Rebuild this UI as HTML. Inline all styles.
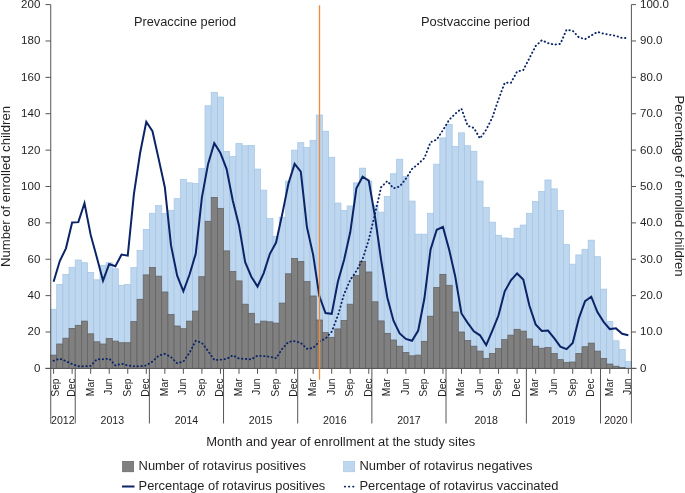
<!DOCTYPE html><html><head><meta charset="utf-8"><style>html,body{margin:0;padding:0;background:#fff;width:685px;height:493px;overflow:hidden}svg{display:block;will-change:transform}text{font-family:"Liberation Sans",sans-serif;fill:#231f20}</style></head><body>
<svg width="685" height="493" viewBox="0 0 685 493">
<rect width="685" height="493" fill="#fff"/>
<g stroke-width="0.7">
<rect x="50.50" y="309.28" width="6.18" height="45.84" fill="#bed6ee" stroke="#a2c5e7"/>
<rect x="56.68" y="284.36" width="6.18" height="59.66" fill="#bed6ee" stroke="#a2c5e7"/>
<rect x="62.86" y="274.36" width="6.18" height="63.85" fill="#bed6ee" stroke="#a2c5e7"/>
<rect x="69.04" y="267.26" width="6.18" height="61.12" fill="#bed6ee" stroke="#a2c5e7"/>
<rect x="75.22" y="259.99" width="6.18" height="65.30" fill="#bed6ee" stroke="#a2c5e7"/>
<rect x="81.40" y="262.72" width="6.18" height="58.39" fill="#bed6ee" stroke="#a2c5e7"/>
<rect x="87.58" y="272.36" width="6.18" height="61.48" fill="#bed6ee" stroke="#a2c5e7"/>
<rect x="93.76" y="279.81" width="6.18" height="62.03" fill="#bed6ee" stroke="#a2c5e7"/>
<rect x="99.94" y="265.26" width="6.18" height="78.76" fill="#bed6ee" stroke="#a2c5e7"/>
<rect x="106.12" y="262.72" width="6.18" height="75.67" fill="#bed6ee" stroke="#a2c5e7"/>
<rect x="112.30" y="268.72" width="6.18" height="72.40" fill="#bed6ee" stroke="#a2c5e7"/>
<rect x="118.48" y="285.27" width="6.18" height="57.48" fill="#bed6ee" stroke="#a2c5e7"/>
<rect x="124.66" y="284.36" width="6.18" height="58.39" fill="#bed6ee" stroke="#a2c5e7"/>
<rect x="130.84" y="267.45" width="6.18" height="54.21" fill="#bed6ee" stroke="#a2c5e7"/>
<rect x="137.02" y="250.53" width="6.18" height="48.75" fill="#bed6ee" stroke="#a2c5e7"/>
<rect x="143.20" y="229.43" width="6.18" height="45.47" fill="#bed6ee" stroke="#a2c5e7"/>
<rect x="149.38" y="213.24" width="6.18" height="54.21" fill="#bed6ee" stroke="#a2c5e7"/>
<rect x="155.56" y="205.60" width="6.18" height="70.58" fill="#bed6ee" stroke="#a2c5e7"/>
<rect x="161.74" y="213.60" width="6.18" height="78.40" fill="#bed6ee" stroke="#a2c5e7"/>
<rect x="167.92" y="210.33" width="6.18" height="104.23" fill="#bed6ee" stroke="#a2c5e7"/>
<rect x="174.10" y="198.69" width="6.18" height="127.33" fill="#bed6ee" stroke="#a2c5e7"/>
<rect x="180.28" y="179.41" width="6.18" height="149.34" fill="#bed6ee" stroke="#a2c5e7"/>
<rect x="186.46" y="182.86" width="6.18" height="138.24" fill="#bed6ee" stroke="#a2c5e7"/>
<rect x="192.64" y="183.59" width="6.18" height="127.51" fill="#bed6ee" stroke="#a2c5e7"/>
<rect x="198.82" y="168.31" width="6.18" height="108.41" fill="#bed6ee" stroke="#a2c5e7"/>
<rect x="205.00" y="105.74" width="6.18" height="115.51" fill="#bed6ee" stroke="#a2c5e7"/>
<rect x="211.18" y="92.28" width="6.18" height="105.14" fill="#bed6ee" stroke="#a2c5e7"/>
<rect x="217.36" y="97.01" width="6.18" height="111.32" fill="#bed6ee" stroke="#a2c5e7"/>
<rect x="223.54" y="151.39" width="6.18" height="99.50" fill="#bed6ee" stroke="#a2c5e7"/>
<rect x="229.72" y="156.49" width="6.18" height="114.96" fill="#bed6ee" stroke="#a2c5e7"/>
<rect x="235.90" y="143.39" width="6.18" height="137.52" fill="#bed6ee" stroke="#a2c5e7"/>
<rect x="242.08" y="145.75" width="6.18" height="158.43" fill="#bed6ee" stroke="#a2c5e7"/>
<rect x="248.26" y="145.39" width="6.18" height="167.89" fill="#bed6ee" stroke="#a2c5e7"/>
<rect x="254.44" y="169.04" width="6.18" height="154.80" fill="#bed6ee" stroke="#a2c5e7"/>
<rect x="260.62" y="190.14" width="6.18" height="130.97" fill="#bed6ee" stroke="#a2c5e7"/>
<rect x="266.80" y="218.33" width="6.18" height="103.50" fill="#bed6ee" stroke="#a2c5e7"/>
<rect x="272.98" y="236.34" width="6.18" height="86.77" fill="#bed6ee" stroke="#a2c5e7"/>
<rect x="279.16" y="217.24" width="6.18" height="85.86" fill="#bed6ee" stroke="#a2c5e7"/>
<rect x="285.34" y="181.04" width="6.18" height="92.77" fill="#bed6ee" stroke="#a2c5e7"/>
<rect x="291.52" y="150.12" width="6.18" height="108.41" fill="#bed6ee" stroke="#a2c5e7"/>
<rect x="297.70" y="142.66" width="6.18" height="118.78" fill="#bed6ee" stroke="#a2c5e7"/>
<rect x="303.88" y="147.57" width="6.18" height="134.06" fill="#bed6ee" stroke="#a2c5e7"/>
<rect x="310.06" y="140.30" width="6.18" height="155.71" fill="#bed6ee" stroke="#a2c5e7"/>
<rect x="316.24" y="115.01" width="6.18" height="205.00" fill="#bed6ee" stroke="#a2c5e7"/>
<rect x="322.42" y="131.20" width="6.18" height="201.36" fill="#bed6ee" stroke="#a2c5e7"/>
<rect x="328.60" y="157.21" width="6.18" height="180.08" fill="#bed6ee" stroke="#a2c5e7"/>
<rect x="334.78" y="203.05" width="6.18" height="125.87" fill="#bed6ee" stroke="#a2c5e7"/>
<rect x="340.96" y="210.33" width="6.18" height="110.23" fill="#bed6ee" stroke="#a2c5e7"/>
<rect x="347.14" y="205.96" width="6.18" height="98.23" fill="#bed6ee" stroke="#a2c5e7"/>
<rect x="353.32" y="182.86" width="6.18" height="92.77" fill="#bed6ee" stroke="#a2c5e7"/>
<rect x="359.50" y="168.13" width="6.18" height="93.50" fill="#bed6ee" stroke="#a2c5e7"/>
<rect x="365.68" y="181.04" width="6.18" height="90.95" fill="#bed6ee" stroke="#a2c5e7"/>
<rect x="371.86" y="205.60" width="6.18" height="96.23" fill="#bed6ee" stroke="#a2c5e7"/>
<rect x="378.04" y="212.15" width="6.18" height="108.78" fill="#bed6ee" stroke="#a2c5e7"/>
<rect x="384.22" y="196.50" width="6.18" height="136.79" fill="#bed6ee" stroke="#a2c5e7"/>
<rect x="390.40" y="173.77" width="6.18" height="166.26" fill="#bed6ee" stroke="#a2c5e7"/>
<rect x="396.58" y="159.22" width="6.18" height="186.99" fill="#bed6ee" stroke="#a2c5e7"/>
<rect x="402.76" y="176.31" width="6.18" height="176.08" fill="#bed6ee" stroke="#a2c5e7"/>
<rect x="408.94" y="201.05" width="6.18" height="154.80" fill="#bed6ee" stroke="#a2c5e7"/>
<rect x="415.12" y="234.16" width="6.18" height="120.96" fill="#bed6ee" stroke="#a2c5e7"/>
<rect x="421.30" y="234.16" width="6.18" height="107.14" fill="#bed6ee" stroke="#a2c5e7"/>
<rect x="427.48" y="213.24" width="6.18" height="102.96" fill="#bed6ee" stroke="#a2c5e7"/>
<rect x="433.66" y="164.13" width="6.18" height="123.51" fill="#bed6ee" stroke="#a2c5e7"/>
<rect x="439.84" y="137.93" width="6.18" height="136.42" fill="#bed6ee" stroke="#a2c5e7"/>
<rect x="446.02" y="124.47" width="6.18" height="160.80" fill="#bed6ee" stroke="#a2c5e7"/>
<rect x="452.20" y="146.30" width="6.18" height="165.71" fill="#bed6ee" stroke="#a2c5e7"/>
<rect x="458.38" y="132.84" width="6.18" height="199.18" fill="#bed6ee" stroke="#a2c5e7"/>
<rect x="464.56" y="145.75" width="6.18" height="194.81" fill="#bed6ee" stroke="#a2c5e7"/>
<rect x="470.74" y="151.21" width="6.18" height="195.00" fill="#bed6ee" stroke="#a2c5e7"/>
<rect x="476.92" y="181.04" width="6.18" height="170.08" fill="#bed6ee" stroke="#a2c5e7"/>
<rect x="483.10" y="207.42" width="6.18" height="150.98" fill="#bed6ee" stroke="#a2c5e7"/>
<rect x="489.28" y="222.15" width="6.18" height="131.33" fill="#bed6ee" stroke="#a2c5e7"/>
<rect x="495.46" y="235.25" width="6.18" height="113.32" fill="#bed6ee" stroke="#a2c5e7"/>
<rect x="501.64" y="237.98" width="6.18" height="101.68" fill="#bed6ee" stroke="#a2c5e7"/>
<rect x="507.82" y="238.34" width="6.18" height="96.77" fill="#bed6ee" stroke="#a2c5e7"/>
<rect x="514.00" y="228.16" width="6.18" height="101.14" fill="#bed6ee" stroke="#a2c5e7"/>
<rect x="520.18" y="225.06" width="6.18" height="106.05" fill="#bed6ee" stroke="#a2c5e7"/>
<rect x="526.36" y="213.24" width="6.18" height="125.69" fill="#bed6ee" stroke="#a2c5e7"/>
<rect x="532.54" y="201.42" width="6.18" height="144.79" fill="#bed6ee" stroke="#a2c5e7"/>
<rect x="538.72" y="191.41" width="6.18" height="156.80" fill="#bed6ee" stroke="#a2c5e7"/>
<rect x="544.90" y="179.95" width="6.18" height="167.53" fill="#bed6ee" stroke="#a2c5e7"/>
<rect x="551.08" y="188.86" width="6.18" height="164.62" fill="#bed6ee" stroke="#a2c5e7"/>
<rect x="557.26" y="210.33" width="6.18" height="149.34" fill="#bed6ee" stroke="#a2c5e7"/>
<rect x="563.44" y="244.53" width="6.18" height="118.05" fill="#bed6ee" stroke="#a2c5e7"/>
<rect x="569.62" y="264.17" width="6.18" height="97.86" fill="#bed6ee" stroke="#a2c5e7"/>
<rect x="575.80" y="254.89" width="6.18" height="98.59" fill="#bed6ee" stroke="#a2c5e7"/>
<rect x="581.98" y="249.26" width="6.18" height="97.50" fill="#bed6ee" stroke="#a2c5e7"/>
<rect x="588.16" y="240.16" width="6.18" height="102.96" fill="#bed6ee" stroke="#a2c5e7"/>
<rect x="594.34" y="256.71" width="6.18" height="94.41" fill="#bed6ee" stroke="#a2c5e7"/>
<rect x="600.52" y="289.09" width="6.18" height="69.30" fill="#bed6ee" stroke="#a2c5e7"/>
<rect x="606.70" y="321.47" width="6.18" height="42.56" fill="#bed6ee" stroke="#a2c5e7"/>
<rect x="612.88" y="340.75" width="6.18" height="25.47" fill="#bed6ee" stroke="#a2c5e7"/>
<rect x="619.06" y="349.48" width="6.18" height="18.01" fill="#bed6ee" stroke="#a2c5e7"/>
<rect x="625.24" y="361.49" width="6.18" height="6.91" fill="#bed6ee" stroke="#a2c5e7"/>
<rect x="50.50" y="355.12" width="6.18" height="13.28" fill="#808080" stroke="#5f5f5f"/>
<rect x="56.68" y="344.03" width="6.18" height="24.37" fill="#808080" stroke="#5f5f5f"/>
<rect x="62.86" y="338.20" width="6.18" height="30.20" fill="#808080" stroke="#5f5f5f"/>
<rect x="69.04" y="328.38" width="6.18" height="40.02" fill="#808080" stroke="#5f5f5f"/>
<rect x="75.22" y="325.29" width="6.18" height="43.11" fill="#808080" stroke="#5f5f5f"/>
<rect x="81.40" y="321.11" width="6.18" height="47.29" fill="#808080" stroke="#5f5f5f"/>
<rect x="87.58" y="333.84" width="6.18" height="34.56" fill="#808080" stroke="#5f5f5f"/>
<rect x="93.76" y="341.84" width="6.18" height="26.56" fill="#808080" stroke="#5f5f5f"/>
<rect x="99.94" y="344.03" width="6.18" height="24.37" fill="#808080" stroke="#5f5f5f"/>
<rect x="106.12" y="338.39" width="6.18" height="30.01" fill="#808080" stroke="#5f5f5f"/>
<rect x="112.30" y="341.12" width="6.18" height="27.28" fill="#808080" stroke="#5f5f5f"/>
<rect x="118.48" y="342.75" width="6.18" height="25.65" fill="#808080" stroke="#5f5f5f"/>
<rect x="124.66" y="342.75" width="6.18" height="25.65" fill="#808080" stroke="#5f5f5f"/>
<rect x="130.84" y="321.65" width="6.18" height="46.75" fill="#808080" stroke="#5f5f5f"/>
<rect x="137.02" y="299.28" width="6.18" height="69.12" fill="#808080" stroke="#5f5f5f"/>
<rect x="143.20" y="274.90" width="6.18" height="93.50" fill="#808080" stroke="#5f5f5f"/>
<rect x="149.38" y="267.45" width="6.18" height="100.95" fill="#808080" stroke="#5f5f5f"/>
<rect x="155.56" y="276.18" width="6.18" height="92.22" fill="#808080" stroke="#5f5f5f"/>
<rect x="161.74" y="292.00" width="6.18" height="76.40" fill="#808080" stroke="#5f5f5f"/>
<rect x="167.92" y="314.56" width="6.18" height="53.84" fill="#808080" stroke="#5f5f5f"/>
<rect x="174.10" y="326.02" width="6.18" height="42.38" fill="#808080" stroke="#5f5f5f"/>
<rect x="180.28" y="328.75" width="6.18" height="39.65" fill="#808080" stroke="#5f5f5f"/>
<rect x="186.46" y="321.11" width="6.18" height="47.29" fill="#808080" stroke="#5f5f5f"/>
<rect x="192.64" y="311.10" width="6.18" height="57.30" fill="#808080" stroke="#5f5f5f"/>
<rect x="198.82" y="276.72" width="6.18" height="91.68" fill="#808080" stroke="#5f5f5f"/>
<rect x="205.00" y="221.24" width="6.18" height="147.16" fill="#808080" stroke="#5f5f5f"/>
<rect x="211.18" y="197.41" width="6.18" height="170.99" fill="#808080" stroke="#5f5f5f"/>
<rect x="217.36" y="208.33" width="6.18" height="160.07" fill="#808080" stroke="#5f5f5f"/>
<rect x="223.54" y="250.89" width="6.18" height="117.51" fill="#808080" stroke="#5f5f5f"/>
<rect x="229.72" y="271.45" width="6.18" height="96.95" fill="#808080" stroke="#5f5f5f"/>
<rect x="235.90" y="280.91" width="6.18" height="87.49" fill="#808080" stroke="#5f5f5f"/>
<rect x="242.08" y="304.19" width="6.18" height="64.21" fill="#808080" stroke="#5f5f5f"/>
<rect x="248.26" y="313.28" width="6.18" height="55.12" fill="#808080" stroke="#5f5f5f"/>
<rect x="254.44" y="323.83" width="6.18" height="44.57" fill="#808080" stroke="#5f5f5f"/>
<rect x="260.62" y="321.11" width="6.18" height="47.29" fill="#808080" stroke="#5f5f5f"/>
<rect x="266.80" y="321.83" width="6.18" height="46.57" fill="#808080" stroke="#5f5f5f"/>
<rect x="272.98" y="323.11" width="6.18" height="45.29" fill="#808080" stroke="#5f5f5f"/>
<rect x="279.16" y="303.10" width="6.18" height="65.30" fill="#808080" stroke="#5f5f5f"/>
<rect x="285.34" y="273.81" width="6.18" height="94.59" fill="#808080" stroke="#5f5f5f"/>
<rect x="291.52" y="258.53" width="6.18" height="109.87" fill="#808080" stroke="#5f5f5f"/>
<rect x="297.70" y="261.44" width="6.18" height="106.96" fill="#808080" stroke="#5f5f5f"/>
<rect x="303.88" y="281.63" width="6.18" height="86.77" fill="#808080" stroke="#5f5f5f"/>
<rect x="310.06" y="296.00" width="6.18" height="72.40" fill="#808080" stroke="#5f5f5f"/>
<rect x="316.24" y="320.01" width="6.18" height="48.39" fill="#808080" stroke="#5f5f5f"/>
<rect x="322.42" y="332.57" width="6.18" height="35.83" fill="#808080" stroke="#5f5f5f"/>
<rect x="328.60" y="337.30" width="6.18" height="31.10" fill="#808080" stroke="#5f5f5f"/>
<rect x="334.78" y="328.93" width="6.18" height="39.47" fill="#808080" stroke="#5f5f5f"/>
<rect x="340.96" y="320.56" width="6.18" height="47.84" fill="#808080" stroke="#5f5f5f"/>
<rect x="347.14" y="304.19" width="6.18" height="64.21" fill="#808080" stroke="#5f5f5f"/>
<rect x="353.32" y="275.63" width="6.18" height="92.77" fill="#808080" stroke="#5f5f5f"/>
<rect x="359.50" y="261.62" width="6.18" height="106.78" fill="#808080" stroke="#5f5f5f"/>
<rect x="365.68" y="271.99" width="6.18" height="96.41" fill="#808080" stroke="#5f5f5f"/>
<rect x="371.86" y="301.82" width="6.18" height="66.58" fill="#808080" stroke="#5f5f5f"/>
<rect x="378.04" y="320.92" width="6.18" height="47.48" fill="#808080" stroke="#5f5f5f"/>
<rect x="384.22" y="333.29" width="6.18" height="35.11" fill="#808080" stroke="#5f5f5f"/>
<rect x="390.40" y="340.02" width="6.18" height="28.38" fill="#808080" stroke="#5f5f5f"/>
<rect x="396.58" y="346.21" width="6.18" height="22.19" fill="#808080" stroke="#5f5f5f"/>
<rect x="402.76" y="352.39" width="6.18" height="16.01" fill="#808080" stroke="#5f5f5f"/>
<rect x="408.94" y="355.85" width="6.18" height="12.55" fill="#808080" stroke="#5f5f5f"/>
<rect x="415.12" y="355.12" width="6.18" height="13.28" fill="#808080" stroke="#5f5f5f"/>
<rect x="421.30" y="341.30" width="6.18" height="27.10" fill="#808080" stroke="#5f5f5f"/>
<rect x="427.48" y="316.19" width="6.18" height="52.21" fill="#808080" stroke="#5f5f5f"/>
<rect x="433.66" y="287.64" width="6.18" height="80.76" fill="#808080" stroke="#5f5f5f"/>
<rect x="439.84" y="274.36" width="6.18" height="94.04" fill="#808080" stroke="#5f5f5f"/>
<rect x="446.02" y="285.27" width="6.18" height="83.13" fill="#808080" stroke="#5f5f5f"/>
<rect x="452.20" y="312.01" width="6.18" height="56.39" fill="#808080" stroke="#5f5f5f"/>
<rect x="458.38" y="332.02" width="6.18" height="36.38" fill="#808080" stroke="#5f5f5f"/>
<rect x="464.56" y="340.57" width="6.18" height="27.83" fill="#808080" stroke="#5f5f5f"/>
<rect x="470.74" y="346.21" width="6.18" height="22.19" fill="#808080" stroke="#5f5f5f"/>
<rect x="476.92" y="351.12" width="6.18" height="17.28" fill="#808080" stroke="#5f5f5f"/>
<rect x="483.10" y="358.40" width="6.18" height="10.00" fill="#808080" stroke="#5f5f5f"/>
<rect x="489.28" y="353.48" width="6.18" height="14.92" fill="#808080" stroke="#5f5f5f"/>
<rect x="495.46" y="348.57" width="6.18" height="19.83" fill="#808080" stroke="#5f5f5f"/>
<rect x="501.64" y="339.66" width="6.18" height="28.74" fill="#808080" stroke="#5f5f5f"/>
<rect x="507.82" y="335.11" width="6.18" height="33.29" fill="#808080" stroke="#5f5f5f"/>
<rect x="514.00" y="329.29" width="6.18" height="39.11" fill="#808080" stroke="#5f5f5f"/>
<rect x="520.18" y="331.11" width="6.18" height="37.29" fill="#808080" stroke="#5f5f5f"/>
<rect x="526.36" y="338.93" width="6.18" height="29.47" fill="#808080" stroke="#5f5f5f"/>
<rect x="532.54" y="346.21" width="6.18" height="22.19" fill="#808080" stroke="#5f5f5f"/>
<rect x="538.72" y="348.21" width="6.18" height="20.19" fill="#808080" stroke="#5f5f5f"/>
<rect x="544.90" y="347.48" width="6.18" height="20.92" fill="#808080" stroke="#5f5f5f"/>
<rect x="551.08" y="353.48" width="6.18" height="14.92" fill="#808080" stroke="#5f5f5f"/>
<rect x="557.26" y="359.67" width="6.18" height="8.73" fill="#808080" stroke="#5f5f5f"/>
<rect x="563.44" y="362.58" width="6.18" height="5.82" fill="#808080" stroke="#5f5f5f"/>
<rect x="569.62" y="362.03" width="6.18" height="6.37" fill="#808080" stroke="#5f5f5f"/>
<rect x="575.80" y="353.48" width="6.18" height="14.92" fill="#808080" stroke="#5f5f5f"/>
<rect x="581.98" y="346.75" width="6.18" height="21.65" fill="#808080" stroke="#5f5f5f"/>
<rect x="588.16" y="343.12" width="6.18" height="25.28" fill="#808080" stroke="#5f5f5f"/>
<rect x="594.34" y="351.12" width="6.18" height="17.28" fill="#808080" stroke="#5f5f5f"/>
<rect x="600.52" y="358.40" width="6.18" height="10.00" fill="#808080" stroke="#5f5f5f"/>
<rect x="606.70" y="364.03" width="6.18" height="4.37" fill="#808080" stroke="#5f5f5f"/>
<rect x="612.88" y="366.22" width="6.18" height="2.18" fill="#808080" stroke="#5f5f5f"/>
<rect x="619.06" y="367.49" width="6.18" height="0.91" fill="#808080" stroke="#5f5f5f"/>
</g>
<polyline points="53.59,360.76 59.77,358.58 65.95,361.12 72.13,364.03 78.31,366.22 84.49,366.22 90.67,365.85 96.85,359.30 103.03,359.30 109.21,358.58 115.39,365.49 121.57,363.67 127.75,365.49 133.93,366.22 140.11,366.22 146.29,365.49 152.47,361.49 158.65,355.67 164.83,353.85 171.01,357.12 177.19,363.31 183.37,361.49 189.55,352.76 195.73,340.75 201.91,342.93 208.09,350.94 214.27,360.03 220.45,359.67 226.63,358.94 232.81,355.30 238.99,358.58 245.17,358.94 251.35,359.30 257.53,355.67 263.71,356.03 269.89,356.76 276.07,358.21 282.25,348.75 288.43,341.84 294.61,341.12 300.79,342.93 306.97,348.75 313.15,348.03 319.33,341.48 325.51,338.57 331.69,331.66 337.87,315.65 344.05,294.18 350.23,280.00 356.41,270.90 362.59,259.26 368.77,239.61 374.95,214.15 381.13,187.23 387.31,181.04 393.49,188.32 399.67,186.50 405.85,178.86 412.03,169.04 418.21,163.94 424.39,158.12 430.57,142.12 436.75,139.57 442.93,130.11 449.11,119.92 455.29,113.74 461.47,108.65 467.65,125.75 473.83,127.93 480.01,138.48 486.19,129.75 492.37,117.38 498.55,99.19 504.73,82.82 510.91,82.82 517.09,71.54 523.27,70.08 529.45,58.08 535.63,46.07 541.81,40.25 547.99,43.16 554.17,44.62 560.35,43.89 566.53,29.70 572.71,30.79 578.89,37.34 585.07,39.16 591.25,35.52 597.43,31.89 603.61,33.70 609.79,34.80 615.97,35.89 622.15,38.07 628.33,38.07" fill="none" stroke="#0b2467" stroke-width="1.9" stroke-dasharray="0.35 3.5" stroke-linecap="round" />
<polyline points="53.59,281.82 59.77,261.08 65.95,248.35 72.13,222.52 78.31,222.15 84.49,203.23 90.67,234.89 96.85,257.44 103.03,280.72 109.21,263.99 115.39,266.17 121.57,254.53 127.75,255.62 133.93,193.78 140.11,153.03 146.29,121.74 152.47,131.20 158.65,158.85 164.83,187.23 171.01,245.44 177.19,275.63 183.37,291.27 189.55,274.54 195.73,253.80 201.91,197.41 208.09,163.94 214.27,143.21 220.45,153.03 226.63,169.04 232.81,200.69 238.99,225.43 245.17,262.17 251.35,276.72 257.53,286.54 263.71,273.08 269.89,253.80 276.07,242.53 282.25,214.15 288.43,183.59 294.61,163.94 300.79,171.58 306.97,227.25 313.15,254.89 319.33,296.00 325.51,313.10 331.69,313.83 337.87,281.82 344.05,259.99 350.23,232.34 356.41,188.32 362.59,176.68 368.77,180.68 374.95,216.33 381.13,259.99 387.31,297.46 393.49,320.74 399.67,333.48 405.85,338.93 412.03,340.75 418.21,330.56 424.39,298.55 430.57,249.44 436.75,229.79 442.93,226.88 449.11,249.44 455.29,276.72 461.47,313.47 467.65,322.92 473.83,331.29 480.01,335.29 486.19,345.12 492.37,330.56 498.55,315.29 504.73,291.27 510.91,280.36 517.09,273.45 523.27,279.63 529.45,305.83 535.63,324.38 541.81,330.93 547.99,330.56 554.17,338.20 560.35,346.57 566.53,349.12 572.71,342.93 578.89,318.20 585.07,301.10 591.25,296.73 597.43,312.01 603.61,321.83 609.79,329.11 615.97,328.38 622.15,333.84 628.33,335.29" fill="none" stroke="#0b2467" stroke-width="2" stroke-linejoin="miter" />
<g stroke="#555555" stroke-width="1" fill="none">
<line x1="50.75" y1="4.6" x2="50.75" y2="423.5"/>
<line x1="631.4" y1="4.6" x2="631.4" y2="423.5"/>
<line x1="45.5" y1="368.4" x2="636.5" y2="368.4"/>
<line x1="45.5" y1="368.40" x2="50.75" y2="368.40"/>
<line x1="631.4" y1="368.40" x2="636" y2="368.40"/>
<line x1="45.5" y1="332.02" x2="50.75" y2="332.02"/>
<line x1="631.4" y1="332.02" x2="636" y2="332.02"/>
<line x1="45.5" y1="295.64" x2="50.75" y2="295.64"/>
<line x1="631.4" y1="295.64" x2="636" y2="295.64"/>
<line x1="45.5" y1="259.26" x2="50.75" y2="259.26"/>
<line x1="631.4" y1="259.26" x2="636" y2="259.26"/>
<line x1="45.5" y1="222.88" x2="50.75" y2="222.88"/>
<line x1="631.4" y1="222.88" x2="636" y2="222.88"/>
<line x1="45.5" y1="186.50" x2="50.75" y2="186.50"/>
<line x1="631.4" y1="186.50" x2="636" y2="186.50"/>
<line x1="45.5" y1="150.12" x2="50.75" y2="150.12"/>
<line x1="631.4" y1="150.12" x2="636" y2="150.12"/>
<line x1="45.5" y1="113.74" x2="50.75" y2="113.74"/>
<line x1="631.4" y1="113.74" x2="636" y2="113.74"/>
<line x1="45.5" y1="77.36" x2="50.75" y2="77.36"/>
<line x1="631.4" y1="77.36" x2="636" y2="77.36"/>
<line x1="45.5" y1="40.98" x2="50.75" y2="40.98"/>
<line x1="631.4" y1="40.98" x2="636" y2="40.98"/>
<line x1="45.5" y1="4.60" x2="50.75" y2="4.60"/>
<line x1="631.4" y1="4.60" x2="636" y2="4.60"/>
<line x1="75.22" y1="368.4" x2="75.22" y2="423.5"/>
<line x1="149.38" y1="368.4" x2="149.38" y2="423.5"/>
<line x1="223.54" y1="368.4" x2="223.54" y2="423.5"/>
<line x1="297.70" y1="368.4" x2="297.70" y2="423.5"/>
<line x1="371.86" y1="368.4" x2="371.86" y2="423.5"/>
<line x1="446.02" y1="368.4" x2="446.02" y2="423.5"/>
<line x1="526.36" y1="368.4" x2="526.36" y2="423.5"/>
<line x1="600.52" y1="368.4" x2="600.52" y2="423.5"/>
<line x1="53.59" y1="368.4" x2="53.59" y2="373.8"/>
<line x1="72.13" y1="368.4" x2="72.13" y2="373.8"/>
<line x1="90.67" y1="368.4" x2="90.67" y2="373.8"/>
<line x1="109.21" y1="368.4" x2="109.21" y2="373.8"/>
<line x1="127.75" y1="368.4" x2="127.75" y2="373.8"/>
<line x1="146.29" y1="368.4" x2="146.29" y2="373.8"/>
<line x1="164.83" y1="368.4" x2="164.83" y2="373.8"/>
<line x1="183.37" y1="368.4" x2="183.37" y2="373.8"/>
<line x1="201.91" y1="368.4" x2="201.91" y2="373.8"/>
<line x1="220.45" y1="368.4" x2="220.45" y2="373.8"/>
<line x1="238.99" y1="368.4" x2="238.99" y2="373.8"/>
<line x1="257.53" y1="368.4" x2="257.53" y2="373.8"/>
<line x1="276.07" y1="368.4" x2="276.07" y2="373.8"/>
<line x1="294.61" y1="368.4" x2="294.61" y2="373.8"/>
<line x1="313.15" y1="368.4" x2="313.15" y2="373.8"/>
<line x1="331.69" y1="368.4" x2="331.69" y2="373.8"/>
<line x1="350.23" y1="368.4" x2="350.23" y2="373.8"/>
<line x1="368.77" y1="368.4" x2="368.77" y2="373.8"/>
<line x1="387.31" y1="368.4" x2="387.31" y2="373.8"/>
<line x1="405.85" y1="368.4" x2="405.85" y2="373.8"/>
<line x1="424.39" y1="368.4" x2="424.39" y2="373.8"/>
<line x1="442.93" y1="368.4" x2="442.93" y2="373.8"/>
<line x1="461.47" y1="368.4" x2="461.47" y2="373.8"/>
<line x1="480.01" y1="368.4" x2="480.01" y2="373.8"/>
<line x1="498.55" y1="368.4" x2="498.55" y2="373.8"/>
<line x1="517.09" y1="368.4" x2="517.09" y2="373.8"/>
<line x1="535.63" y1="368.4" x2="535.63" y2="373.8"/>
<line x1="554.17" y1="368.4" x2="554.17" y2="373.8"/>
<line x1="572.71" y1="368.4" x2="572.71" y2="373.8"/>
<line x1="591.25" y1="368.4" x2="591.25" y2="373.8"/>
<line x1="609.79" y1="368.4" x2="609.79" y2="373.8"/>
<line x1="628.33" y1="368.4" x2="628.33" y2="373.8"/>
</g>
<line x1="319.5" y1="5.3" x2="319.5" y2="379.7" stroke="#ee8a3c" stroke-width="1.3"/>
<text x="40.3" y="371.80" font-size="11.5" text-anchor="end">0</text>
<text x="640" y="371.80" font-size="11.5">0</text>
<text x="40.3" y="335.42" font-size="11.5" text-anchor="end">20</text>
<text x="640" y="335.42" font-size="11.5">10.0</text>
<text x="40.3" y="299.04" font-size="11.5" text-anchor="end">40</text>
<text x="640" y="299.04" font-size="11.5">20.0</text>
<text x="40.3" y="262.66" font-size="11.5" text-anchor="end">60</text>
<text x="640" y="262.66" font-size="11.5">30.0</text>
<text x="40.3" y="226.28" font-size="11.5" text-anchor="end">80</text>
<text x="640" y="226.28" font-size="11.5">40.0</text>
<text x="40.3" y="189.90" font-size="11.5" text-anchor="end">100</text>
<text x="640" y="189.90" font-size="11.5">50.0</text>
<text x="40.3" y="153.52" font-size="11.5" text-anchor="end">120</text>
<text x="640" y="153.52" font-size="11.5">60.0</text>
<text x="40.3" y="117.14" font-size="11.5" text-anchor="end">140</text>
<text x="640" y="117.14" font-size="11.5">70.0</text>
<text x="40.3" y="80.76" font-size="11.5" text-anchor="end">160</text>
<text x="640" y="80.76" font-size="11.5">80.0</text>
<text x="40.3" y="44.38" font-size="11.5" text-anchor="end">180</text>
<text x="640" y="44.38" font-size="11.5">90.0</text>
<text x="40.3" y="8.00" font-size="11.5" text-anchor="end">200</text>
<text x="640" y="8.00" font-size="11.5">100.0</text>
<text transform="translate(59.44,378.4) rotate(-90)" font-size="10.3" text-anchor="end">Sep</text>
<text transform="translate(74.98,378.4) rotate(-90)" font-size="10.3" text-anchor="end">Dec</text>
<text transform="translate(93.52,378.4) rotate(-90)" font-size="10.3" text-anchor="end">Mar</text>
<text transform="translate(112.06,378.4) rotate(-90)" font-size="10.3" text-anchor="end">Jun</text>
<text transform="translate(130.60,378.4) rotate(-90)" font-size="10.3" text-anchor="end">Sep</text>
<text transform="translate(149.14,378.4) rotate(-90)" font-size="10.3" text-anchor="end">Dec</text>
<text transform="translate(167.68,378.4) rotate(-90)" font-size="10.3" text-anchor="end">Mar</text>
<text transform="translate(186.22,378.4) rotate(-90)" font-size="10.3" text-anchor="end">Jun</text>
<text transform="translate(204.76,378.4) rotate(-90)" font-size="10.3" text-anchor="end">Sep</text>
<text transform="translate(223.30,378.4) rotate(-90)" font-size="10.3" text-anchor="end">Dec</text>
<text transform="translate(241.84,378.4) rotate(-90)" font-size="10.3" text-anchor="end">Mar</text>
<text transform="translate(260.38,378.4) rotate(-90)" font-size="10.3" text-anchor="end">Jun</text>
<text transform="translate(278.92,378.4) rotate(-90)" font-size="10.3" text-anchor="end">Sep</text>
<text transform="translate(297.46,378.4) rotate(-90)" font-size="10.3" text-anchor="end">Dec</text>
<text transform="translate(316.00,378.4) rotate(-90)" font-size="10.3" text-anchor="end">Mar</text>
<text transform="translate(334.54,378.4) rotate(-90)" font-size="10.3" text-anchor="end">Jun</text>
<text transform="translate(353.08,378.4) rotate(-90)" font-size="10.3" text-anchor="end">Sep</text>
<text transform="translate(371.62,378.4) rotate(-90)" font-size="10.3" text-anchor="end">Dec</text>
<text transform="translate(390.16,378.4) rotate(-90)" font-size="10.3" text-anchor="end">Mar</text>
<text transform="translate(408.70,378.4) rotate(-90)" font-size="10.3" text-anchor="end">Jun</text>
<text transform="translate(427.24,378.4) rotate(-90)" font-size="10.3" text-anchor="end">Sep</text>
<text transform="translate(445.78,378.4) rotate(-90)" font-size="10.3" text-anchor="end">Dec</text>
<text transform="translate(464.32,378.4) rotate(-90)" font-size="10.3" text-anchor="end">Mar</text>
<text transform="translate(482.86,378.4) rotate(-90)" font-size="10.3" text-anchor="end">Jun</text>
<text transform="translate(501.40,378.4) rotate(-90)" font-size="10.3" text-anchor="end">Sep</text>
<text transform="translate(519.94,378.4) rotate(-90)" font-size="10.3" text-anchor="end">Dec</text>
<text transform="translate(538.48,378.4) rotate(-90)" font-size="10.3" text-anchor="end">Mar</text>
<text transform="translate(557.02,378.4) rotate(-90)" font-size="10.3" text-anchor="end">Jun</text>
<text transform="translate(575.56,378.4) rotate(-90)" font-size="10.3" text-anchor="end">Sep</text>
<text transform="translate(594.10,378.4) rotate(-90)" font-size="10.3" text-anchor="end">Dec</text>
<text transform="translate(612.64,378.4) rotate(-90)" font-size="10.3" text-anchor="end">Mar</text>
<text transform="translate(631.18,378.4) rotate(-90)" font-size="10.3" text-anchor="end">Jun</text>
<text x="62.86" y="423.6" font-size="10.6" text-anchor="middle">2012</text>
<text x="112.30" y="423.6" font-size="10.6" text-anchor="middle">2013</text>
<text x="186.46" y="423.6" font-size="10.6" text-anchor="middle">2014</text>
<text x="260.62" y="423.6" font-size="10.6" text-anchor="middle">2015</text>
<text x="334.78" y="423.6" font-size="10.6" text-anchor="middle">2016</text>
<text x="408.94" y="423.6" font-size="10.6" text-anchor="middle">2017</text>
<text x="486.19" y="423.6" font-size="10.6" text-anchor="middle">2018</text>
<text x="563.44" y="423.6" font-size="10.6" text-anchor="middle">2019</text>
<text x="615.96" y="423.6" font-size="10.6" text-anchor="middle">2020</text>
<text x="134.0" y="26.0" font-size="12.5" textLength="102" lengthAdjust="spacingAndGlyphs">Prevaccine period</text>
<text x="420.9" y="26.0" font-size="12.5" textLength="109" lengthAdjust="spacingAndGlyphs">Postvaccine period</text>
<text x="206.2" y="446.2" font-size="12.5" textLength="269" lengthAdjust="spacingAndGlyphs">Month and year of enrollment at the study sites</text>
<text transform="translate(9.5,267) rotate(-90)" font-size="12.5" textLength="161" lengthAdjust="spacingAndGlyphs">Number of enrolled children</text>
<text transform="translate(675,95.6) rotate(90)" font-size="12.5" textLength="181" lengthAdjust="spacingAndGlyphs">Percentage of enrolled children</text>
<rect x="122.5" y="461.3" width="11.2" height="10.5" fill="#808080" stroke="#5f5f5f" stroke-width="0.6"/>
<text x="138.6" y="470.0" font-size="12.5" textLength="167.4" lengthAdjust="spacingAndGlyphs">Number of rotavirus positives</text>
<rect x="343.5" y="461.3" width="11.2" height="10.5" fill="#bed6ee" stroke="#a2c5e7" stroke-width="0.6"/>
<text x="359.5" y="470.0" font-size="12.5" textLength="173" lengthAdjust="spacingAndGlyphs">Number of rotavirus negatives</text>
<line x1="122" y1="486.5" x2="134.5" y2="486.5" stroke="#0b2467" stroke-width="2"/>
<text x="138.6" y="489.8" font-size="12.5" textLength="186.7" lengthAdjust="spacingAndGlyphs">Percentage of rotavirus positives</text>
<line x1="344.8" y1="486.6" x2="353.6" y2="486.6" stroke="#0b2467" stroke-width="1.9" stroke-dasharray="0.35 3.8" stroke-linecap="round"/>
<text x="359.5" y="489.8" font-size="12.5" textLength="199" lengthAdjust="spacingAndGlyphs">Percentage of rotavirus vaccinated</text>
</svg></body></html>
